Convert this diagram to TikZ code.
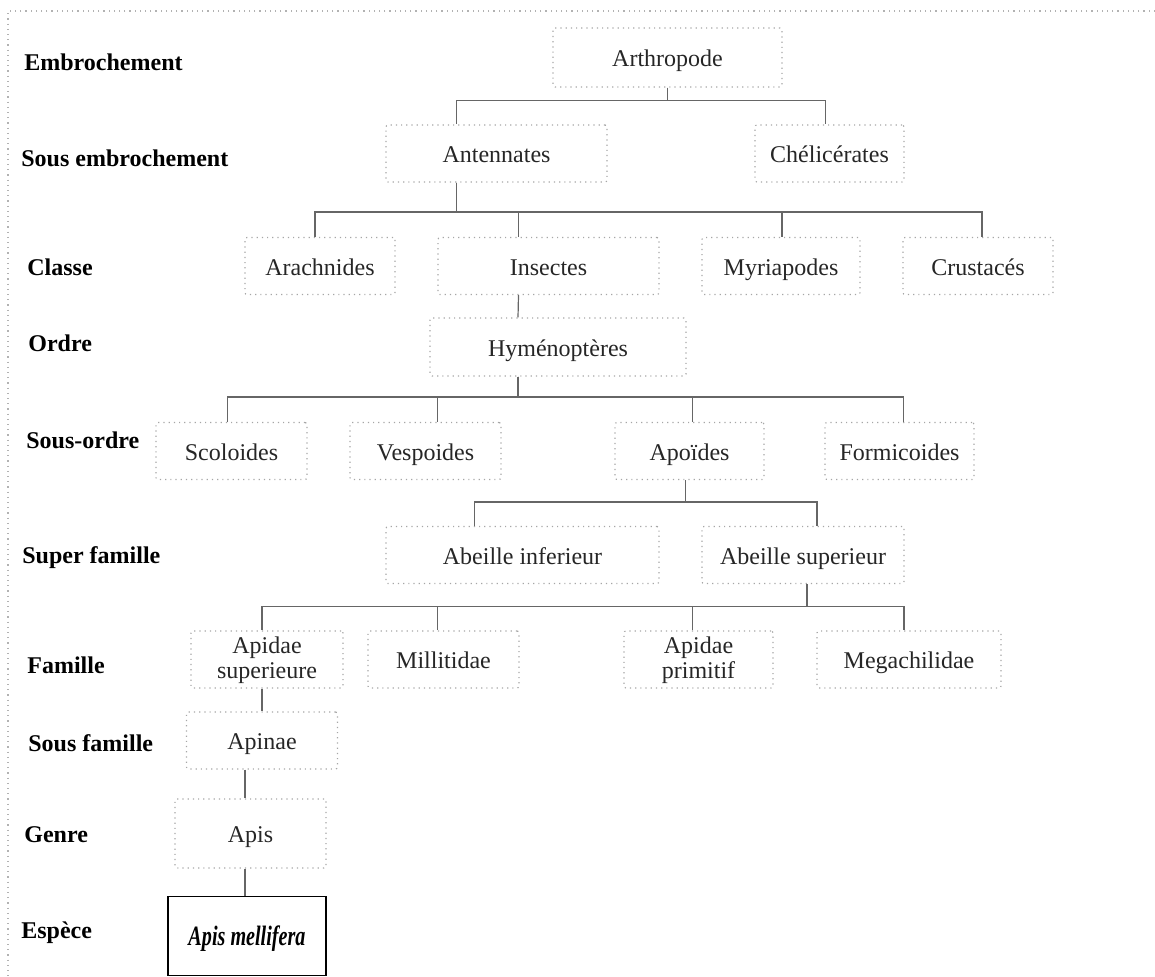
\documentclass[tikz,border=0pt]{standalone}
\usepackage{fontspec}
\setmainfont{Liberation Serif}
\usepackage{tikz}

\begin{document}
\begin{tikzpicture}[x=0.5pt, y=-0.5pt,
    taxon/.style={draw=black!35, dotted, line width=0.6pt, rounded corners=1pt,
        minimum height=28.5pt, inner sep=1pt, align=center, text=black!85,
        text height=10pt, text depth=1pt,
        font=\fontsize{12}{12.5}\selectfont},
    twolines/.style={text height=21pt, text depth=2pt},
    rank/.style={anchor=west, inner sep=0pt, font=\fontsize{12}{14}\selectfont\bfseries},
    link/.style={draw=black!60, line width=0.6pt}]

        \useasboundingbox (0,0) rectangle (1155,976);

        % Draw the open frame
        \draw[black!30, dotted, line width=0.6pt] (1155,11) -- (8,11) -- (8,976);

        % Label the ranks
        \node[rank] (lemb) at (24,62) {Embrochement};
        \node[rank] (lsemb) at (21,158) {Sous embrochement};
        \node[rank] (lcla) at (27,267) {Classe};
        \node[rank] (lord) at (28,343) {Ordre};
        \node[rank] (lsord) at (26,440) {Sous-ordre};
        \node[rank] (lsfam) at (22,558) {Super famille};
        \node[rank] (lfam) at (27,665) {Famille};
        \node[rank] (lsousfam) at (28,743) {Sous famille};
        \node[rank] (lgen) at (24,835) {Genre};
        \node[rank] (lesp) at (21,933) {Espèce};

        % Draw the taxa, level by level
        \node[taxon, minimum width=114.5pt, minimum height=29.5pt] (arth) at (667.5,57.5) {Arthropode};

        \node[taxon, minimum width=110.5pt] (ant) at (496.5,153.5) {Antennates};
        \node[taxon, minimum width=74.5pt] (chel) at (829.5,153.5) {Chélicérates};

        \node[taxon, minimum width=75pt] (ara) at (320,266) {Arachnides};
        \node[taxon, minimum width=110.5pt] (ins) at (548.5,266) {Insectes};
        \node[taxon, minimum width=79pt] (myr) at (781,266) {Myriapodes};
        \node[taxon, minimum width=75pt] (cru) at (978,266) {Crustacés};

        \node[taxon, minimum width=128pt, minimum height=29pt] (hym) at (558,347) {Hyménoptères};

        \node[taxon, minimum width=75.5pt] (sco) at (231.5,451) {Scoloides};
        \node[taxon, minimum width=75.5pt] (ves) at (425.5,451) {Vespoides};
        \node[taxon, minimum width=74.5pt] (apo) at (689.5,451) {Apoïdes};
        \node[taxon, minimum width=74.5pt] (frm) at (899.5,451) {Formicoides};

        \node[taxon, minimum width=136.5pt] (abi) at (522.5,555) {Abeille inferieur};
        \node[taxon, minimum width=101pt] (abs) at (803,555) {Abeille superieur};

        \node[taxon, twolines, minimum width=76pt] (apsup) at (267,659.5) {Apidae\\superieure};
        \node[taxon, minimum width=75.5pt] (mil) at (443.5,659.5) {Millitidae};
        \node[taxon, twolines, minimum width=74.5pt] (appr) at (698.5,659.5) {Apidae\\primitif};
        \node[taxon, minimum width=92pt] (meg) at (909,659.5) {Megachilidae};

        \node[taxon, minimum width=75.5pt] (apinae) at (262,740.5) {Apinae};
        \node[taxon, minimum width=75.5pt, minimum height=34.5pt] (apis) at (250.5,833.5) {Apis};
        \node[taxon, draw=black, solid, rounded corners=0pt, minimum width=79pt,
            minimum height=39.5pt, text=black] (mell) at (247,936)
            {\fontsize{14}{14}\selectfont\bfseries\itshape\scalebox{0.72}[1]{Apis mellifera}};

        % Connect parents to children
        \foreach \c/\dx in {ant/-20, chel/-2}
            \draw[link] (arth.south) |- ([xshift=\dx pt, yshift=12pt]\c.north) -- ([xshift=\dx pt]\c.north);

        \foreach \c/\dx in {ara/-2.5, ins/-15, myr/0.5, cru/2}
            \draw[link] ([xshift=-20pt]ant.south) |- ([xshift=\dx pt, yshift=12.5pt]\c.north) -- ([xshift=\dx pt]\c.north);

        \draw[link] ([xshift=-15pt]ins.south) -- ([xshift=-20pt]hym.north);

        \foreach \c/\dx in {sco/-2, ves/6, apo/1.5, frm/2}
            \draw[link] ([xshift=-20pt]hym.south) |- ([xshift=\dx pt, yshift=12.5pt]\c.north) -- ([xshift=\dx pt]\c.north);

        \foreach \c/\dx in {abi/-24, abs/7}
            \draw[link] ([xshift=-2pt]apo.south) |- ([xshift=\dx pt, yshift=12pt]\c.north) -- ([xshift=\dx pt]\c.north);

        \foreach \c/\dx in {apsup/-2.5, mil/-3, appr/-3, meg/-2.5}
            \draw[link] ([xshift=2pt]abs.south) |- ([xshift=\dx pt, yshift=12pt]\c.north) -- ([xshift=\dx pt]\c.north);

        % Down to the species
        \draw[link] ([xshift=-2.5pt]apsup.south) -- (apinae.north);
        \draw[link] ([xshift=-8.5pt]apinae.south) -- ([xshift=-2.75pt]apis.north);
        \draw[link] ([xshift=-2.75pt]apis.south) -- ([xshift=-1pt]mell.north);
    \end{tikzpicture}
\end{document}
